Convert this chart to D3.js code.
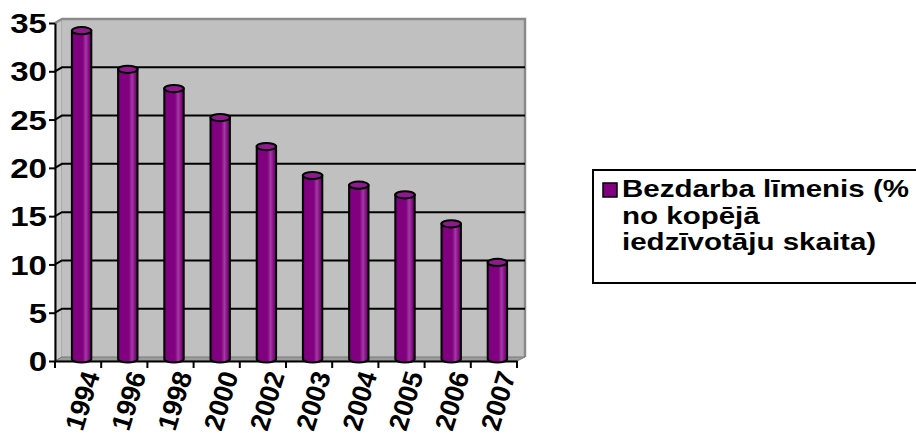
<!DOCTYPE html>
<html>
<head>
<meta charset="utf-8">
<script src="https://cdn.jsdelivr.net/npm/d3@7"></script>
<style>
  body { margin: 0; background: #fff; }
  svg text { font-family: "Liberation Sans", Arial, sans-serif; font-weight: bold; fill: #000; }
</style>
</head>
<body>
<div id="chart"></div>
<script>
const years = ['1994', '1996', '1998', '2000', '2002', '2003', '2004', '2005', '2006', '2007'];
const rates = [34, 30, 28, 25, 22, 19, 18, 17, 14, 10];
const yTicks = [0, 5, 10, 15, 20, 25, 30, 35];
const legendLines = ['Bezdarba līmenis (%', 'no kopējā', 'iedzīvotāju skaita)'];

const width = 916, height = 448;
// front plane of the 3D box
const x0 = 55, x1 = 517, yTop = 23, yBottom = 361;
// depth offset of the back wall
const dx = 7, dy = -4;
// the original picture is a bit stretched sideways
const stretch = 1.18;

const svg = d3.select('#chart').append('svg')
  .attr('width', width)
  .attr('height', height);

const defs = svg.append('defs');
const grad = defs.append('linearGradient').attr('id', 'cyl').attr('x1', 0).attr('x2', 1).attr('y1', 0).attr('y2', 0);
[[0, '#5a005a'], [0.12, '#800080'], [0.55, '#800080'], [0.72, '#a23aa2'], [0.85, '#8a108a'], [1, '#5a005a']]
  .forEach(s => grad.append('stop').attr('offset', s[0]).attr('stop-color', s[1]));

const xScale = d3.scaleBand()
  .domain(years)
  .range([x0, x1]);

const yScale = d3.scaleLinear()
  .domain([0, 35])
  .range([yBottom, yTop]);

// walls
svg.append('polygon')
  .attr('points', [[x0, yBottom], [x0, yTop], [x0 + dx, yTop + dy], [x0 + dx, yBottom + dy]].join(' '))
  .attr('fill', '#c8c8c8').attr('stroke', '#8c8c8c').attr('stroke-width', 1);

svg.append('rect')
  .attr('x', x0 + dx).attr('y', yTop + dy)
  .attr('width', x1 - x0 + 1).attr('height', yBottom - yTop)
  .attr('fill', '#c0c0c0');

// gray border on top and right of back wall
svg.append('path')
  .attr('d', `M${x0},${yTop} L${x0 + dx},${yTop + dy} L${x1 + dx + 1},${yTop + dy} L${x1 + dx + 1},${yBottom + dy}`)
  .attr('fill', 'none').attr('stroke', '#8a8a8a').attr('stroke-width', 2.5);

// floor
svg.append('polygon')
  .attr('points', [[x0, yBottom], [x0 + dx, yBottom + dy], [x1 + dx + 1, yBottom + dy], [x1, yBottom]].join(' '))
  .attr('fill', '#9c9c9c').attr('stroke', '#7a7a7a').attr('stroke-width', 1);

// gridlines (back wall and side wall)
const grid = svg.append('g').attr('class', 'grid');
yTicks.filter(v => v > 0 && v < 35).forEach(v => {
  grid.append('path')
    .attr('d', `M${x0},${yScale(v)} L${x0 + dx},${yScale(v) + dy} L${x1 + dx + 1},${yScale(v) + dy}`)
    .attr('fill', 'none').attr('stroke', '#000').attr('stroke-width', 2);
});

// axes
const yAxis = d3.axisLeft(yScale)
  .tickValues(yTicks)
  .tickSize(6)
  .tickSizeOuter(0)
  .tickFormat('');

const yAxisGroup = svg.append('g')
  .attr('class', 'axis y-axis')
  .attr('transform', `translate(${x0}, 0)`)
  .call(yAxis);
yAxisGroup.select('.domain').attr('stroke', '#000').attr('stroke-width', 2);
yAxisGroup.selectAll('line').attr('stroke', '#000').attr('stroke-width', 2);

svg.append('g').selectAll('text')
  .data(yTicks)
  .enter()
  .append('text')
  .attr('text-anchor', 'end')
  .attr('font-size', 28)
  .attr('dy', '0.36em')
  .attr('transform', d => `translate(${x0 - 8}, ${yScale(d)}) scale(${stretch}, 1)`)
  .text(d => d);

const xAxis = d3.axisBottom(xScale)
  .tickSize(0)
  .tickSizeOuter(0)
  .tickFormat('');

const xAxisGroup = svg.append('g')
  .attr('class', 'axis x-axis')
  .attr('transform', `translate(0, ${yBottom})`)
  .call(xAxis);
xAxisGroup.select('.domain').attr('stroke', '#000').attr('stroke-width', 2);

// ticks between categories
const bounds = years.map(d => xScale(d)).concat([x1]);
xAxisGroup.selectAll('line.sep')
  .data(bounds)
  .enter()
  .append('line')
  .attr('class', 'sep')
  .attr('x1', d => d).attr('x2', d => d)
  .attr('y1', 0).attr('y2', 7)
  .attr('stroke', '#000').attr('stroke-width', 2);

// rotated category labels
svg.append('g').selectAll('text')
  .data(years)
  .enter()
  .append('text')
  .attr('text-anchor', 'end')
  .attr('font-size', 27)
  .attr('transform', d => `translate(${xScale(d) + xScale.bandwidth() / 2 + 13}, ${yBottom + 11}) rotate(-73)`)
  .attr('dy', '0.35em')
  .text(d => d);

// cylinder bars
const barW = xScale.bandwidth() * 0.42;
const rx = barW / 2, ry = 3.6;
const bars = svg.append('g').selectAll('g')
  .data(years.map((d, i) => ({year: d, value: rates[i]})))
  .enter()
  .append('g');

bars.append('path')
  .attr('d', d => {
    const cx = xScale(d.year) + xScale.bandwidth() / 2 + dx / 2;
    const top = yScale(d.value) + dy / 2;
    const bot = yScale(0) + dy / 2;
    return `M${cx - rx},${top} L${cx - rx},${bot} A${rx},${ry} 0 0 0 ${cx + rx},${bot} L${cx + rx},${top} Z`;
  })
  .attr('fill', 'url(#cyl)')
  .attr('stroke', '#000').attr('stroke-width', 2);

bars.append('ellipse')
  .attr('cx', d => xScale(d.year) + xScale.bandwidth() / 2 + dx / 2)
  .attr('cy', d => yScale(d.value) + dy / 2)
  .attr('rx', rx).attr('ry', ry)
  .attr('fill', '#8e1a8e')
  .attr('stroke', '#000').attr('stroke-width', 2);

// legend
const legend = svg.append('g').attr('class', 'legend');
legend.append('rect')
  .attr('x', 593).attr('y', 170)
  .attr('width', 340).attr('height', 113)
  .attr('fill', '#fff').attr('stroke', '#000').attr('stroke-width', 2);
legend.append('rect')
  .attr('x', 603).attr('y', 183)
  .attr('width', 14).attr('height', 14)
  .attr('fill', '#800080').attr('stroke', '#000').attr('stroke-width', 1.5);
legend.selectAll('text.line')
  .data(legendLines)
  .enter()
  .append('text')
  .attr('class', 'line')
  .attr('font-size', 24)
  .attr('transform', (d, i) => `translate(622, ${197 + i * 26.5}) scale(${stretch + 0.05}, 1)`)
  .text(d => d);
</script>
</body>
</html>
